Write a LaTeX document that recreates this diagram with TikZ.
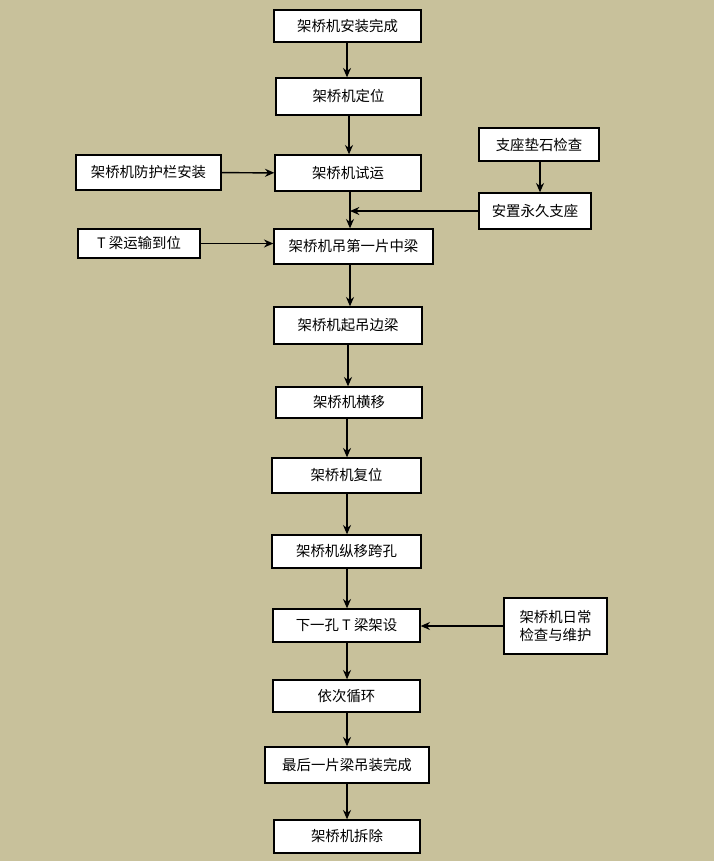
\documentclass[tikz,border=0pt]{standalone}
\usepackage{fontspec}
\setmainfont{Noto Sans CJK SC}
\usetikzlibrary{arrows.meta}
\definecolor{bg}{RGB}{200,193,155}
\begin{document}
\begin{tikzpicture}[x=0.75pt,y=-0.75pt,
  box/.style={draw=black,line width=1pt,fill=white,inner sep=0pt,font=\fontsize{10.8pt}{13pt}\selectfont,align=center},
  arr/.style={-{Stealth[length=7pt,width=6pt]},line width=1.1pt}]
\fill[bg] (0,0) rectangle (714,861);
\useasboundingbox (0,0) rectangle (714,861);
\newcommand{\bx}[6]{\node[box,minimum width=#3*0.75pt,minimum height=#4*0.75pt] (#1) at (#2) {#5};}
\bx{a}{347.5,26}{147}{32}{架桥机安装完成}{}
\bx{b}{348.5,96.5}{145}{37}{架桥机定位}{}
\bx{c}{348,173}{146}{36}{架桥机试运}{}
\bx{d}{148.5,172.5}{145}{35}{架桥机防护栏安装}{}
\bx{e}{539,144.5}{120}{33}{支座垫石检查}{}
\bx{f}{535,211}{112}{36}{安置永久支座}{}
\bx{g}{139,243.5}{122}{29}{T 梁运输到位}{}
\bx{h}{353.5,246.5}{159}{35}{架桥机吊第一片中梁}{}
\bx{i}{348,325.5}{148}{37}{架桥机起吊边梁}{}
\bx{j}{349,402.5}{146}{31}{架桥机横移}{}
\bx{k}{346.5,475.5}{149}{35}{架桥机复位}{}
\bx{l}{346.5,551.5}{149}{33}{架桥机纵移跨孔}{}
\bx{m}{346.5,625.5}{147}{33}{下一孔 T 梁架设}{}
\bx{n}{555.5,626}{103}{56}{架桥机日常\\检查与维护}{}
\bx{o}{346.5,696}{147}{32}{依次循环}{}
\bx{p}{347,765}{164}{36}{最后一片梁吊装完成}{}
\bx{q}{347,836.5}{146}{33}{架桥机拆除}{}
\draw[arr] (a.south -| 347,0) -- (b.north -| 347,0);
\draw[arr] (b.south -| 349,0) -- (c.north -| 349,0);
\draw[arr] (d) -- (c);
\draw[arr] (e.south -| 540,0) -- (f.north -| 540,0);
\draw[arr] (c.south -| 350,0) -- (h.north -| 350,0);
\draw[arr] (f.west) -- (350,211);
\draw[arr] (g) -- (h.west |- g);
\draw[arr] (h.south -| 350,0) -- (i.north -| 350,0);
\draw[arr] (i.south -| 348,0) -- (j.north -| 348,0);
\draw[arr] (j.south -| 347,0) -- (k.north -| 347,0);
\draw[arr] (k.south -| 347,0) -- (l.north -| 347,0);
\draw[arr] (l.south -| 347,0) -- (m.north -| 347,0);
\draw[arr] (n.west) -- (m.east |- n.west);
\draw[arr] (m.south -| 347,0) -- (o.north -| 347,0);
\draw[arr] (o.south -| 347,0) -- (p.north -| 347,0);
\draw[arr] (p.south -| 347,0) -- (q.north -| 347,0);
\end{tikzpicture}
\end{document}
